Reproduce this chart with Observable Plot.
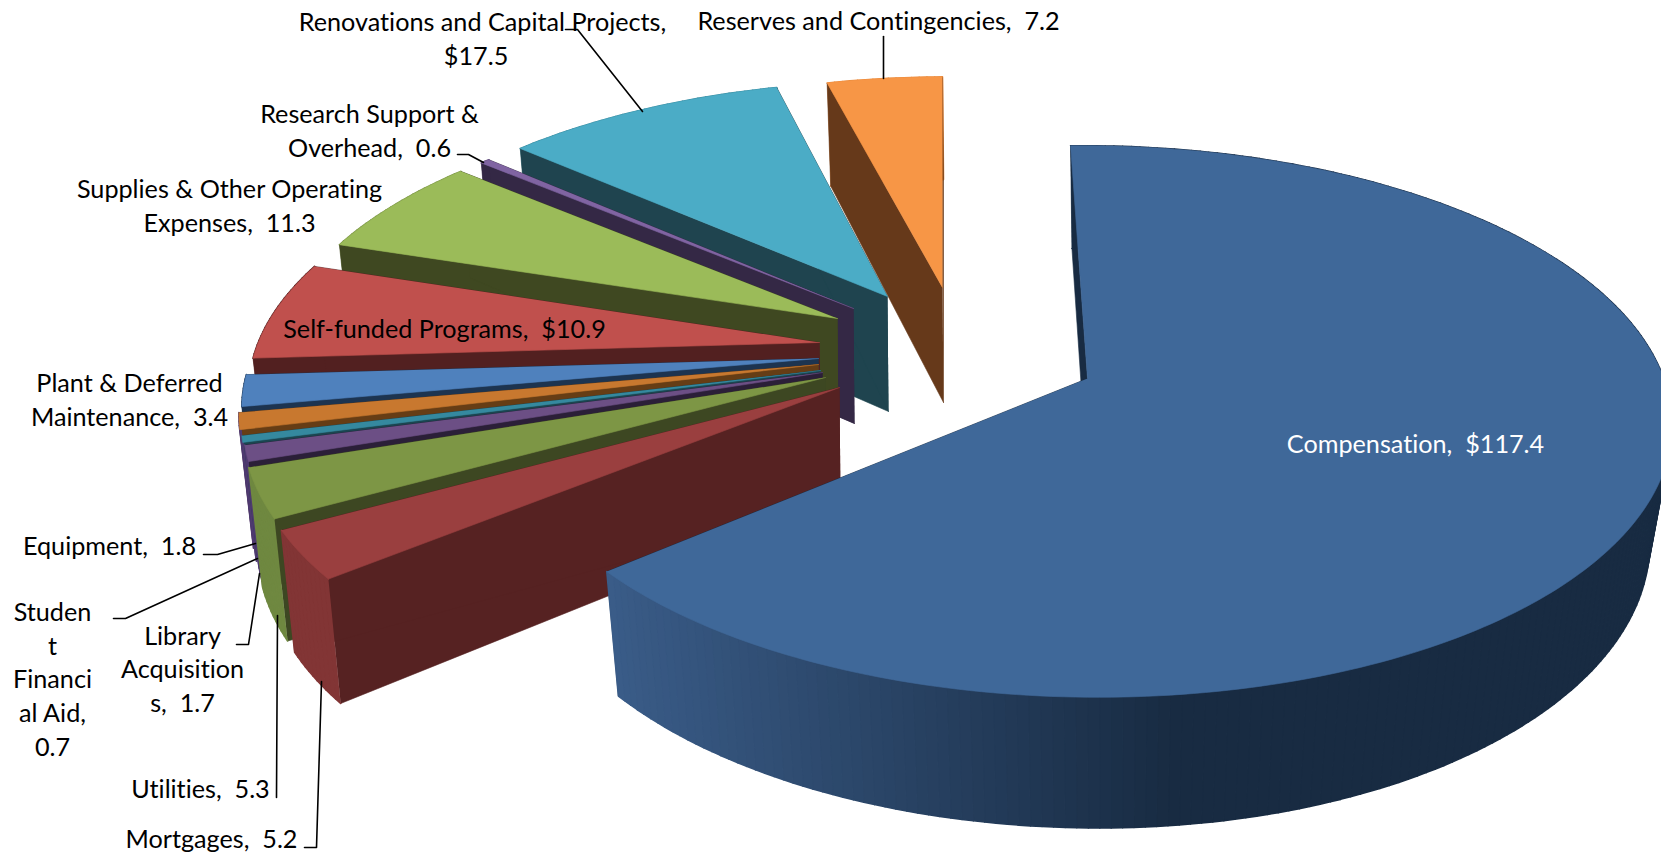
<!DOCTYPE html>
<html><head><meta charset="utf-8">
<script src="https://cdn.jsdelivr.net/npm/d3@7"></script>
<script src="https://cdn.jsdelivr.net/npm/@observablehq/plot@0.6"></script>
<style>html,body{margin:0;padding:0;background:#fff;overflow:hidden}svg{display:block}svg text{font-variant-ligatures:none}</style>
</head><body><div id="chart"></div>
<script>
// ---- data
const categories = ["Compensation","Mortgages","Utilities","Library Acquisitions","Student Financial Aid","Equipment","Plant & Deferred Maintenance","Self-funded Programs","Supplies & Other Operating Expenses","Research Support & Overhead","Renovations and Capital Projects","Reserves and Contingencies"];
const values = [117.4,5.2,5.3,1.7,0.7,1.8,3.4,10.9,11.3,0.6,17.5,7.2];
const labelTexts = ["Compensation,  $117.4","Mortgages,  5.2","Utilities,  5.3","Library\nAcquisition\ns,  1.7","Studen\nt\nFinanci\nal Aid,\n0.7","Equipment,  1.8","Plant & Deferred\nMaintenance,  3.4","Self-funded Programs,  $10.9","Supplies & Other Operating\nExpenses,  11.3","Research Support &\nOverhead,  0.6","Renovations and Capital Projects,\n$17.5  ","Reserves and Contingencies,  7.2"];
// ---- styles
const topColors  = ["#3F6899","#9A3F3F","#7D9645","#6C4F85","#35899F","#C8782F","#4F81BD","#C0504D","#9BBB59","#8064A2","#4BACC6","#F79646"];
const faceColors = ["#182B42","#562222","#3D4722","#2B1F38","#1B4550","#663D15","#1D3450","#522020","#3F4821","#342845","#1F444F","#66391A"];
const wallColors = ["#182B42","#823535","#6F8840","#4F3A70","#4F3A70","#4F3A70","#1D3450","#522020","#7A9346","#5F4A7A","#3A8BA0","#E98A3C"];
// ---- layout: exploded apex of each slice and its perspective scale
const apexX = [1087,839,825,822,820,818,818,819,837,853,887,942];
const apexY = [378,387,377,372,370,364,358,342,318,308,296,287];
const sliceSX = [1,1.035,1.02,1.015,1.015,1.015,1.01,1,0.985,0.97,0.97,0.958];
const sliceSY = [1,1.03,1.02,1.01,1.0,1.0,1.0,0.97,0.94,0.93,0.925,0.905];
const labelX = [1415,211,200,182,52,109,129,444,229,369,482,878];
const labelY = [442,837,787,667,677,544,398,327,204,129,37,19];
const leaders = [
  [[565,29],[577,29],[642,111]],
  [[883,36],[883,78]],
  [[457,154],[468,154],[483,162]],
  [[203,554],[217,554],[255,543]],
  [[113,618],[125,618],[257,558]],
  [[236,644],[248,644],[259,573]],
  [[276,797],[277,615]],
  [[304,847],[316,847],[321,681]]
];
// ---- projection of the pie's disc
const A=269, k=0.156, depth=115, kd=0.12;
const total = d3.sum(values);
function topPt(i, deg){
  const a = deg*Math.PI/180, u=Math.sin(a), v=-Math.cos(a);
  const B=i===0?574:568, m=i===0?0:0.012, D=i===0?-6:0, w=1-m*u-k*v;
  const C=(apexX[i]-942)*0.135;
  return [apexX[i]+sliceSX[i]*(B*u+C*v)/w, apexY[i]+sliceSY[i]*(D*u+A*v)/w, v];
}
function bottomPt(i, p){
  const r=p[0]-apexX[i];
  return [apexX[i]+r*(r>0?0.96:0.978)+1, p[1]+depth/(1-kd*p[2])];
}
const apexTop = i=>[apexX[i],apexY[i],0];
const pts=[]; let id=0;
function poly(points, color, sw){ id++; for(const p of points) pts.push({x:p[0],y:p[1],id,color,sw}); }
const cum = d3.cumsum(values);
for(let i=values.length-1;i>=0;i--){
  const a1=cum[i]/total*360, a0=a1-values[i]/total*360, n=Math.max(2,Math.ceil(a1-a0));
  const rim=d3.range(n+1).map(j=>topPt(i,a0+(a1-a0)*j/n));
  const ap=apexTop(i), apb=bottomPt(i,ap);
  const wall=j=>{
    let c=wallColors[i];
    if(i===0) c=d3.interpolateRgb("#3A5C88","#182B42")(Math.max(0,Math.min(1,(rim[j][0]-609)/(1180-609))));
    poly([rim[j],rim[j+1],bottomPt(i,rim[j+1]),bottomPt(i,rim[j])],c,1.6);
  };
  const isFront=j=>rim[j][2]+rim[j+1][2]>0.04;
  for(let j=0;j<n;j++) if(!isFront(j)) wall(j);
  poly([ap,rim[0],bottomPt(i,rim[0]),apb],faceColors[i],0.6);
  poly([ap,rim[n],bottomPt(i,rim[n]),apb],faceColors[i],0.6);
  for(let j=0;j<n;j++) if(isFront(j)) wall(j);
  poly([ap,...rim],topColors[i],0.6);
}
const leaderPts = leaders.flatMap((l,i)=>l.map(p=>({x:p[0],y:p[1],i})));
const labels = labelTexts.map((t,i)=>({t,x:labelX[i],y:labelY[i],white:i===0}));
const chart = Plot.plot({
  width:1661,height:856,margin:0,
  style:{background:"#fff"},
  x:{domain:[0,1661],range:[0,1661],axis:null},
  y:{domain:[0,856],range:[0,856],axis:null},
  color:{type:"identity"},
  marks:[
    Plot.line(pts,{x:"x",y:"y",z:"id",fill:"color",stroke:"color",strokeWidth:"sw"}),
    Plot.line(leaderPts,{x:"x",y:"y",z:"i",stroke:"#000",strokeWidth:1.6}),
    Plot.text(labels,{x:"x",y:"y",text:"t",fill:d=>d.white?"#fff":"#000",fontSize:25.2,lineHeight:1.34,fontFamily:"Lato, 'Noto Sans', sans-serif"})
  ]
});
document.getElementById("chart").appendChild(chart);
</script></body></html>
